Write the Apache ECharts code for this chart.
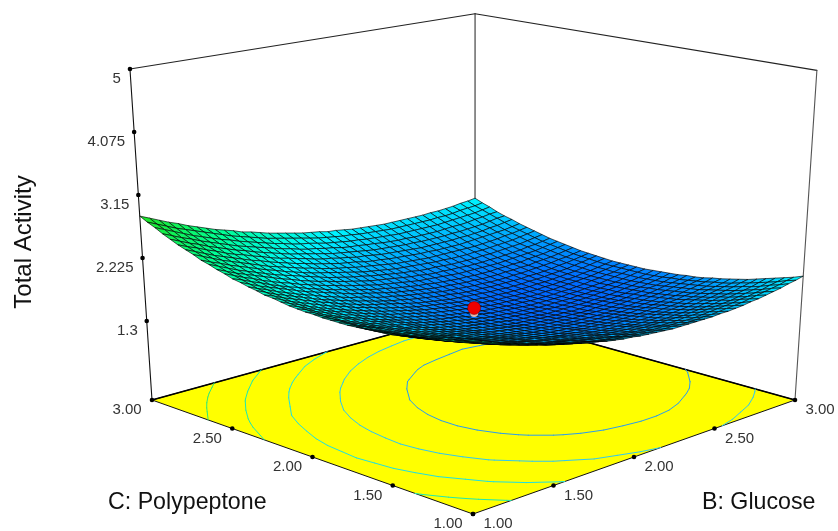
<!DOCTYPE html>
<html><head><meta charset="utf-8">
<style>html,body{margin:0;padding:0;background:#fff}#c{width:838px;height:531px}</style>
<script src="https://cdn.jsdelivr.net/npm/echarts@6/dist/echarts.min.js"></script></head>
<body><div id="c"></div>
<script>
const bTicks=[1,1.5,2,2.5,3];
const cTicks=[1,1.5,2,2.5,3];
const zTicks=[1.3,2.225,3.15,4.075,5];
const contourLevels=[2.5,2.27,2.04,1.81,1.58];
const designPoint=[2,2,1.51];
const surfaceRows=[
[2.47,2.42,2.37,2.32,2.28,2.23,2.19,2.15,2.12,2.08,2.05,2.02,1.99,1.96,1.94,1.91,1.89,1.87,1.86,1.84,1.83,1.82,1.81,1.80,1.80,1.80,1.80,1.80,1.80,1.81,1.81,1.82,1.83,1.85,1.86,1.88,1.90,1.92,1.95,1.97,2.00],
[2.43,2.38,2.33,2.28,2.24,2.20,2.15,2.12,2.08,2.04,2.01,1.98,1.95,1.92,1.90,1.87,1.85,1.83,1.82,1.80,1.79,1.78,1.77,1.76,1.76,1.75,1.75,1.75,1.76,1.76,1.77,1.78,1.79,1.80,1.82,1.84,1.86,1.88,1.90,1.93,1.95],
[2.40,2.35,2.30,2.25,2.20,2.16,2.12,2.08,2.04,2.01,1.97,1.94,1.91,1.88,1.86,1.83,1.81,1.79,1.78,1.76,1.75,1.74,1.73,1.72,1.72,1.71,1.71,1.71,1.71,1.72,1.73,1.74,1.75,1.76,1.78,1.79,1.81,1.83,1.86,1.88,1.91],
[2.37,2.31,2.26,2.22,2.17,2.13,2.08,2.04,2.01,1.97,1.94,1.91,1.88,1.85,1.82,1.80,1.78,1.76,1.74,1.72,1.71,1.70,1.69,1.68,1.68,1.67,1.67,1.67,1.68,1.68,1.69,1.70,1.71,1.72,1.73,1.75,1.77,1.79,1.81,1.84,1.87],
[2.34,2.28,2.23,2.19,2.14,2.10,2.05,2.01,1.98,1.94,1.91,1.87,1.84,1.82,1.79,1.77,1.74,1.72,1.71,1.69,1.68,1.66,1.65,1.65,1.64,1.64,1.64,1.64,1.64,1.64,1.65,1.66,1.67,1.68,1.70,1.71,1.73,1.75,1.77,1.80,1.83],
[2.31,2.26,2.21,2.16,2.11,2.07,2.02,1.98,1.95,1.91,1.88,1.84,1.81,1.78,1.76,1.73,1.71,1.69,1.67,1.66,1.64,1.63,1.62,1.61,1.61,1.60,1.60,1.60,1.60,1.61,1.61,1.62,1.63,1.65,1.66,1.68,1.69,1.71,1.74,1.76,1.79],
[2.28,2.23,2.18,2.13,2.09,2.04,2.00,1.96,1.92,1.88,1.85,1.82,1.79,1.76,1.73,1.71,1.68,1.66,1.64,1.63,1.61,1.60,1.59,1.58,1.58,1.57,1.57,1.57,1.57,1.58,1.58,1.59,1.60,1.61,1.63,1.64,1.66,1.68,1.70,1.73,1.75],
[2.26,2.21,2.16,2.11,2.06,2.02,1.97,1.93,1.89,1.86,1.82,1.79,1.76,1.73,1.70,1.68,1.66,1.64,1.62,1.60,1.59,1.57,1.56,1.55,1.55,1.54,1.54,1.54,1.54,1.55,1.55,1.56,1.57,1.58,1.60,1.61,1.63,1.65,1.67,1.69,1.72],
[2.24,2.19,2.14,2.09,2.04,2.00,1.95,1.91,1.87,1.84,1.80,1.77,1.74,1.71,1.68,1.66,1.63,1.61,1.59,1.58,1.56,1.55,1.54,1.53,1.52,1.52,1.52,1.51,1.52,1.52,1.52,1.53,1.54,1.55,1.57,1.58,1.60,1.62,1.64,1.66,1.69],
[2.22,2.17,2.12,2.07,2.02,1.98,1.93,1.89,1.85,1.82,1.78,1.75,1.72,1.69,1.66,1.63,1.61,1.59,1.57,1.55,1.54,1.53,1.51,1.51,1.50,1.49,1.49,1.49,1.49,1.49,1.50,1.51,1.52,1.53,1.54,1.56,1.57,1.59,1.61,1.64,1.66],
[2.21,2.16,2.10,2.05,2.01,1.96,1.92,1.88,1.84,1.80,1.76,1.73,1.70,1.67,1.64,1.62,1.59,1.57,1.55,1.53,1.52,1.51,1.49,1.48,1.48,1.47,1.47,1.47,1.47,1.47,1.48,1.48,1.49,1.50,1.52,1.53,1.55,1.57,1.59,1.61,1.64],
[2.20,2.14,2.09,2.04,1.99,1.95,1.90,1.86,1.82,1.78,1.75,1.71,1.68,1.65,1.62,1.60,1.58,1.55,1.53,1.52,1.50,1.49,1.48,1.47,1.46,1.45,1.45,1.45,1.45,1.45,1.46,1.46,1.47,1.48,1.50,1.51,1.53,1.55,1.57,1.59,1.61],
[2.19,2.13,2.08,2.03,1.98,1.94,1.89,1.85,1.81,1.77,1.74,1.70,1.67,1.64,1.61,1.58,1.56,1.54,1.52,1.50,1.49,1.47,1.46,1.45,1.44,1.44,1.43,1.43,1.43,1.43,1.44,1.44,1.45,1.46,1.48,1.49,1.51,1.53,1.55,1.57,1.59],
[2.18,2.12,2.07,2.02,1.97,1.93,1.88,1.84,1.80,1.76,1.72,1.69,1.66,1.63,1.60,1.57,1.55,1.53,1.51,1.49,1.47,1.46,1.45,1.44,1.43,1.42,1.42,1.42,1.42,1.42,1.42,1.43,1.44,1.45,1.46,1.47,1.49,1.51,1.53,1.55,1.58],
[2.17,2.12,2.07,2.02,1.97,1.92,1.88,1.83,1.79,1.75,1.72,1.68,1.65,1.62,1.59,1.56,1.54,1.52,1.50,1.48,1.46,1.45,1.44,1.43,1.42,1.41,1.41,1.40,1.40,1.41,1.41,1.42,1.42,1.43,1.45,1.46,1.48,1.49,1.51,1.54,1.56],
[2.17,2.12,2.06,2.01,1.96,1.92,1.87,1.83,1.79,1.75,1.71,1.68,1.64,1.61,1.58,1.56,1.53,1.51,1.49,1.47,1.45,1.44,1.43,1.42,1.41,1.40,1.40,1.39,1.39,1.40,1.40,1.41,1.41,1.42,1.43,1.45,1.46,1.48,1.50,1.52,1.55],
[2.17,2.12,2.06,2.01,1.96,1.91,1.87,1.83,1.78,1.75,1.71,1.67,1.64,1.61,1.58,1.55,1.53,1.51,1.48,1.47,1.45,1.43,1.42,1.41,1.40,1.39,1.39,1.39,1.39,1.39,1.39,1.40,1.40,1.41,1.42,1.44,1.45,1.47,1.49,1.51,1.54],
[2.17,2.12,2.06,2.01,1.96,1.91,1.87,1.83,1.78,1.75,1.71,1.67,1.64,1.61,1.58,1.55,1.53,1.50,1.48,1.46,1.45,1.43,1.42,1.41,1.40,1.39,1.39,1.38,1.38,1.38,1.39,1.39,1.40,1.41,1.42,1.43,1.45,1.46,1.48,1.50,1.53],
[2.18,2.12,2.07,2.02,1.97,1.92,1.87,1.83,1.79,1.75,1.71,1.67,1.64,1.61,1.58,1.55,1.53,1.50,1.48,1.46,1.44,1.43,1.42,1.40,1.40,1.39,1.38,1.38,1.38,1.38,1.38,1.39,1.39,1.40,1.41,1.43,1.44,1.46,1.48,1.50,1.52],
[2.18,2.13,2.07,2.02,1.97,1.92,1.88,1.83,1.79,1.75,1.71,1.68,1.64,1.61,1.58,1.55,1.53,1.51,1.48,1.46,1.45,1.43,1.42,1.41,1.40,1.39,1.38,1.38,1.38,1.38,1.38,1.39,1.39,1.40,1.41,1.42,1.44,1.46,1.48,1.50,1.52],
[2.19,2.14,2.08,2.03,1.98,1.93,1.89,1.84,1.80,1.76,1.72,1.68,1.65,1.62,1.59,1.56,1.53,1.51,1.49,1.47,1.45,1.43,1.42,1.41,1.40,1.39,1.39,1.38,1.38,1.38,1.38,1.39,1.39,1.40,1.41,1.43,1.44,1.46,1.47,1.50,1.52],
[2.20,2.15,2.09,2.04,1.99,1.94,1.90,1.85,1.81,1.77,1.73,1.69,1.66,1.63,1.60,1.57,1.54,1.52,1.50,1.48,1.46,1.44,1.43,1.41,1.40,1.40,1.39,1.39,1.38,1.38,1.39,1.39,1.40,1.41,1.42,1.43,1.44,1.46,1.48,1.50,1.52],
[2.22,2.16,2.11,2.05,2.00,1.95,1.91,1.86,1.82,1.78,1.74,1.70,1.67,1.64,1.61,1.58,1.55,1.53,1.51,1.48,1.47,1.45,1.44,1.42,1.41,1.40,1.40,1.39,1.39,1.39,1.39,1.40,1.40,1.41,1.42,1.43,1.45,1.46,1.48,1.50,1.52],
[2.24,2.18,2.12,2.07,2.02,1.97,1.92,1.88,1.84,1.79,1.76,1.72,1.68,1.65,1.62,1.59,1.56,1.54,1.52,1.50,1.48,1.46,1.45,1.43,1.42,1.41,1.41,1.40,1.40,1.40,1.40,1.41,1.41,1.42,1.43,1.44,1.45,1.47,1.49,1.51,1.53],
[2.25,2.20,2.14,2.09,2.04,1.99,1.94,1.90,1.85,1.81,1.77,1.73,1.70,1.67,1.64,1.61,1.58,1.55,1.53,1.51,1.49,1.47,1.46,1.45,1.44,1.43,1.42,1.42,1.41,1.41,1.41,1.42,1.42,1.43,1.44,1.45,1.46,1.48,1.50,1.52,1.54],
[2.28,2.22,2.16,2.11,2.06,2.01,1.96,1.91,1.87,1.83,1.79,1.75,1.72,1.68,1.65,1.62,1.60,1.57,1.55,1.53,1.51,1.49,1.48,1.46,1.45,1.44,1.44,1.43,1.43,1.43,1.43,1.43,1.44,1.44,1.45,1.46,1.48,1.49,1.51,1.53,1.55],
[2.30,2.24,2.19,2.13,2.08,2.03,1.98,1.94,1.89,1.85,1.81,1.77,1.74,1.71,1.67,1.64,1.62,1.59,1.57,1.55,1.53,1.51,1.49,1.48,1.47,1.46,1.45,1.45,1.44,1.44,1.44,1.45,1.45,1.46,1.47,1.48,1.49,1.51,1.52,1.54,1.56],
[2.33,2.27,2.21,2.16,2.11,2.06,2.01,1.96,1.92,1.88,1.84,1.80,1.76,1.73,1.70,1.67,1.64,1.61,1.59,1.57,1.55,1.53,1.51,1.50,1.49,1.48,1.47,1.47,1.46,1.46,1.46,1.47,1.47,1.48,1.48,1.50,1.51,1.52,1.54,1.56,1.58],
[2.35,2.30,2.24,2.19,2.13,2.08,2.03,1.99,1.94,1.90,1.86,1.82,1.79,1.75,1.72,1.69,1.66,1.64,1.61,1.59,1.57,1.55,1.54,1.52,1.51,1.50,1.49,1.49,1.48,1.48,1.48,1.49,1.49,1.50,1.50,1.52,1.53,1.54,1.56,1.58,1.60],
[2.39,2.33,2.27,2.22,2.16,2.11,2.06,2.02,1.97,1.93,1.89,1.85,1.82,1.78,1.75,1.72,1.69,1.66,1.64,1.62,1.60,1.58,1.56,1.55,1.54,1.53,1.52,1.51,1.51,1.51,1.51,1.51,1.51,1.52,1.53,1.54,1.55,1.56,1.58,1.60,1.62],
[2.42,2.36,2.30,2.25,2.20,2.15,2.10,2.05,2.01,1.96,1.92,1.88,1.85,1.81,1.78,1.75,1.72,1.69,1.67,1.65,1.63,1.61,1.59,1.58,1.56,1.55,1.55,1.54,1.54,1.53,1.53,1.53,1.54,1.54,1.55,1.56,1.57,1.59,1.60,1.62,1.64],
[2.46,2.40,2.34,2.28,2.23,2.18,2.13,2.08,2.04,2.00,1.96,1.92,1.88,1.84,1.81,1.78,1.75,1.73,1.70,1.68,1.66,1.64,1.62,1.61,1.59,1.58,1.58,1.57,1.56,1.56,1.56,1.56,1.57,1.57,1.58,1.59,1.60,1.61,1.63,1.65,1.67],
[2.49,2.43,2.38,2.32,2.27,2.22,2.17,2.12,2.08,2.03,1.99,1.95,1.91,1.88,1.85,1.82,1.79,1.76,1.73,1.71,1.69,1.67,1.65,1.64,1.63,1.62,1.61,1.60,1.60,1.59,1.59,1.59,1.60,1.60,1.61,1.62,1.63,1.64,1.66,1.68,1.70],
[2.54,2.48,2.42,2.36,2.31,2.26,2.21,2.16,2.11,2.07,2.03,1.99,1.95,1.92,1.88,1.85,1.82,1.80,1.77,1.75,1.73,1.71,1.69,1.67,1.66,1.65,1.64,1.63,1.63,1.63,1.63,1.63,1.63,1.63,1.64,1.65,1.66,1.68,1.69,1.71,1.73],
[2.58,2.52,2.46,2.40,2.35,2.30,2.25,2.20,2.16,2.11,2.07,2.03,1.99,1.96,1.92,1.89,1.86,1.83,1.81,1.79,1.76,1.74,1.73,1.71,1.70,1.69,1.68,1.67,1.67,1.66,1.66,1.66,1.66,1.67,1.68,1.69,1.70,1.71,1.72,1.74,1.76],
[2.62,2.56,2.51,2.45,2.40,2.34,2.29,2.25,2.20,2.16,2.11,2.07,2.04,2.00,1.97,1.93,1.90,1.88,1.85,1.83,1.80,1.79,1.77,1.75,1.74,1.73,1.72,1.71,1.70,1.70,1.70,1.70,1.70,1.71,1.71,1.72,1.73,1.75,1.76,1.78,1.80],
[2.67,2.61,2.55,2.50,2.44,2.39,2.34,2.29,2.25,2.20,2.16,2.12,2.08,2.04,2.01,1.98,1.95,1.92,1.89,1.87,1.85,1.83,1.81,1.79,1.78,1.77,1.76,1.75,1.75,1.74,1.74,1.74,1.74,1.75,1.75,1.76,1.77,1.78,1.80,1.82,1.83],
[2.72,2.66,2.60,2.55,2.49,2.44,2.39,2.34,2.29,2.25,2.21,2.17,2.13,2.09,2.06,2.02,1.99,1.97,1.94,1.92,1.89,1.87,1.86,1.84,1.83,1.81,1.80,1.79,1.79,1.78,1.78,1.78,1.78,1.79,1.80,1.80,1.81,1.83,1.84,1.86,1.87],
[2.78,2.72,2.66,2.60,2.54,2.49,2.44,2.39,2.35,2.30,2.26,2.22,2.18,2.14,2.11,2.07,2.04,2.02,1.99,1.96,1.94,1.92,1.90,1.89,1.87,1.86,1.85,1.84,1.83,1.83,1.83,1.83,1.83,1.83,1.84,1.85,1.86,1.87,1.88,1.90,1.92],
[2.83,2.77,2.71,2.65,2.60,2.55,2.50,2.45,2.40,2.35,2.31,2.27,2.23,2.19,2.16,2.13,2.10,2.07,2.04,2.01,1.99,1.97,1.95,1.94,1.92,1.91,1.90,1.89,1.88,1.88,1.88,1.88,1.88,1.88,1.89,1.89,1.90,1.92,1.93,1.94,1.96],
[2.89,2.83,2.77,2.71,2.66,2.60,2.55,2.50,2.45,2.41,2.37,2.32,2.29,2.25,2.21,2.18,2.15,2.12,2.09,2.07,2.05,2.02,2.01,1.99,1.97,1.96,1.95,1.94,1.93,1.93,1.93,1.93,1.93,1.93,1.94,1.94,1.95,1.96,1.98,1.99,2.01]
];
// view
const corner={F:[473,514],R:[795,400],B:[475,311],L:[152,400]};
const topY=69, vanish=[474,5235], axisMin=1, axisMax=3, zTop=5, zBase=0.07, zTickBase=0.14;
const sx=corner.F[0]-corner.R[0]+corner.B[0]-corner.L[0], sy=corner.F[1]-corner.R[1]+corner.B[1]-corner.L[1];
const dx1=corner.R[0]-corner.B[0], dx2=corner.L[0]-corner.B[0], dy1=corner.R[1]-corner.B[1], dy2=corner.L[1]-corner.B[1];
const den=dx1*dy2-dx2*dy1, g=(sx*dy2-dx2*sy)/den, h=(dx1*sy-sx*dy1)/den;
const a=corner.R[0]-corner.F[0]+g*corner.R[0], b=corner.L[0]-corner.F[0]+h*corner.L[0];
const d=corner.R[1]-corner.F[1]+g*corner.R[1], e=corner.L[1]-corner.F[1]+h*corner.L[1];
const lam=((corner.L[1]*(1+h))-topY*(1+h))/(topY-vanish[1]);
function project(B,C,z){
  const u=(B-axisMin)/(axisMax-axisMin), v=(C-axisMin)/(axisMax-axisMin), w=z==null?0:(z-zBase)/(zTop-zBase);
  const W=g*u+h*v+1+lam*w;
  return [(a*u+b*v+corner.F[0]+lam*w*vanish[0])/W,(d*u+e*v+corner.F[1]+lam*w*vanish[1])/W];
}
const lerp=(p,q,t)=>[p[0]+(q[0]-p[0])*t,p[1]+(q[1]-p[1])*t];
const n=surfaceRows.length;
const gridVal=i=>axisMin+(axisMax-axisMin)*i/(n-1);
// surface colours
const colorStops=[[1.4,[0,104,255]],[2.0,[0,245,255]],[2.4,[0,255,150]],[2.89,[30,230,30]]];
function zColor(z){
  if(z<=colorStops[0][0])return 'rgb('+colorStops[0][1]+')';
  for(let i=1;i<colorStops.length;i++){
    if(z<=colorStops[i][0]){
      const t=(z-colorStops[i-1][0])/(colorStops[i][0]-colorStops[i-1][0]);
      const p=colorStops[i-1][1],q=colorStops[i][1];
      return 'rgb('+p.map((v,k)=>Math.round(v+(q[k]-v)*t))+')';
    }
  }
  return 'rgb('+colorStops[colorStops.length-1][1]+')';
}
const levelColors=['#30e878','#20e8b0','#20e0e0','#30c8f0','#2a9cf0'];
// surface cells, back to front
const cells=[];
for(let j=0;j<n-1;j++)for(let i=0;i<n-1;i++)cells.push([i,j]);
cells.sort((p,q)=>(q[0]+q[1])-(p[0]+p[1]));
// contour segments, traced on every second table row and column
const contourStep=2;
const segs=[];
contourLevels.forEach((lev,li)=>{
  for(let j=0;j<n-1;j+=contourStep)for(let i=0;i<n-1;i+=contourStep){
    const s=contourStep,c=[[i,j],[i+s,j],[i+s,j+s],[i,j+s]],pts=[];
    for(let k=0;k<4;k++){
      const p=c[k],q=c[(k+1)%4],zp=surfaceRows[p[1]][p[0]],zq=surfaceRows[q[1]][q[0]];
      if((zp<lev)!==(zq<lev)){
        const t=(lev-zp)/(zq-zp);
        pts.push([gridVal(p[0]+(q[0]-p[0])*t),gridVal(p[1]+(q[1]-p[1])*t)]);
      }
    }
    if(pts.length>=2)segs.push([pts[0][0],pts[0][1],pts[1][0],pts[1][1],li]);
    if(pts.length===4)segs.push([pts[2][0],pts[2][1],pts[3][0],pts[3][1],li]);
  }
});
const frameEdges=[
 [1,3,zTop,3,3,zTop,'#222'],[3,3,zTop,3,1,zTop,'#222'],
 [1,3,zTop,1,3,zBase,'#111'],[3,1,zTop,3,1,zBase,'#555'],[3,3,zTop,3,3,zBase,'#333']
];
const tickFont='15px "Liberation Sans", Arial, sans-serif', nameFont='23.2px "Liberation Sans", Arial, sans-serif', zNameFont='24px "Liberation Sans", Arial, sans-serif';
function line(api,p,q,color,w){
  const P=api.coord(p),Q=api.coord(q);
  return {type:'line',shape:{x1:P[0],y1:P[1],x2:Q[0],y2:Q[1]},style:{stroke:color,lineWidth:w,lineCap:'round'}};
}
function tickGroup(api,pt,label,dx,dy,align){
  const P=api.coord(pt);
  return {type:'group',children:[
    {type:'circle',shape:{cx:P[0],cy:P[1],r:2.3},style:{fill:'#000'}},
    {type:'text',x:P[0]+dx,y:P[1]+dy,style:{text:label,font:tickFont,fill:'#333',align:align,verticalAlign:'middle'}}
  ]};
}
const base={type:'custom',coordinateSystem:'cartesian2d',silent:true,clip:false,animation:false,progressive:0};
const zTickData=zTicks.map(v=>[v]);
const option={
 animation:false,
 grid:{left:0,right:0,top:0,bottom:0},
 xAxis:{type:'value',min:0,max:838,show:false},
 yAxis:{type:'value',min:0,max:531,inverse:true,show:false},
 graphic:[
  {type:'text',left:108,top:491,style:{text:'C: Polypeptone',font:nameFont,fill:'#111'}},
  {type:'text',left:702,top:491,style:{text:'B: Glucose',font:nameFont,fill:'#111'}},
  {type:'text',x:24,y:242,rotation:Math.PI/2,style:{text:'Total Activity',font:zNameFont,fill:'#111',align:'center',verticalAlign:'middle'}}
 ],
 series:[
  Object.assign({},base,{name:'frame',data:frameEdges,renderItem:(p,api)=>{
    const f=frameEdges[p.dataIndex];
    return line(api,project(f[0],f[1],f[2]),project(f[3],f[4],f[5]),f[6],1.1);
  }}),
  Object.assign({},base,{name:'floor',data:[[0]],renderItem:(p,api)=>({type:'group',children:[
    {type:'polygon',shape:{points:[[1,1],[3,1],[3,3],[1,3]].map(q=>api.coord(project(q[0],q[1])))},style:{fill:'#ffff00',stroke:'#111',lineWidth:1}},
    line(api,project(1,3),project(3,3),'#000',1.5),line(api,project(3,1),project(3,3),'#000',1.5)
  ]})}),
  Object.assign({},base,{name:'contours',data:segs,renderItem:(p,api)=>{
    const s=segs[p.dataIndex];
    return line(api,project(s[0],s[1]),project(s[2],s[3]),levelColors[s[4]],1);
  }}),
  Object.assign({},base,{name:'surface',data:cells,renderItem:(p,api)=>{
    const c=cells[p.dataIndex],i=c[0],j=c[1];
    const q=[[i,j],[i+1,j],[i+1,j+1],[i,j+1]];
    const zs=q.map(t=>surfaceRows[t[1]][t[0]]);
    return {type:'polygon',shape:{points:q.map((t,k)=>api.coord(project(gridVal(t[0]),gridVal(t[1]),zs[k])))},
      style:{fill:zColor((zs[0]+zs[1]+zs[2]+zs[3])/4),stroke:'#000',lineWidth:0.65}};
  }}),
  Object.assign({},base,{name:'design point',data:[designPoint],renderItem:(p,api)=>{
    const P=api.coord(project(designPoint[0],designPoint[1],designPoint[2]));
    return {type:'group',children:[
      {type:'circle',shape:{cx:P[0],cy:P[1]+5,r:4},style:{fill:'#e8b8a8'}},
      {type:'circle',shape:{cx:P[0],cy:P[1],r:6.5},style:{fill:'#f00000',stroke:'#700',lineWidth:0.5}}
    ]};
  }}),
  Object.assign({},base,{name:'z ticks',data:zTickData,renderItem:(p,api)=>{
    const v=zTicks[p.dataIndex],t=(v-zTickBase)/(zTop-zTickBase);
    return tickGroup(api,lerp(project(1,3),project(1,3,zTop),t),String(v),-9,10,'right');
  }}),
  Object.assign({},base,{name:'C ticks',data:cTicks.map(v=>[v]),renderItem:(p,api)=>{
    const v=cTicks[p.dataIndex],t=(v-axisMin)/(axisMax-axisMin);
    return tickGroup(api,lerp(corner.F,corner.L,t),v.toFixed(2),-25,10,'center');
  }}),
  Object.assign({},base,{name:'B ticks',data:bTicks.map(v=>[v]),renderItem:(p,api)=>{
    const v=bTicks[p.dataIndex],t=(v-axisMin)/(axisMax-axisMin);
    return tickGroup(api,lerp(corner.F,corner.R,t),v.toFixed(2),25,10,'center');
  }})
 ]
};
const chart=echarts.init(document.getElementById('c'),null,{renderer:'canvas'});
chart.setOption(option);
</script></body></html>
